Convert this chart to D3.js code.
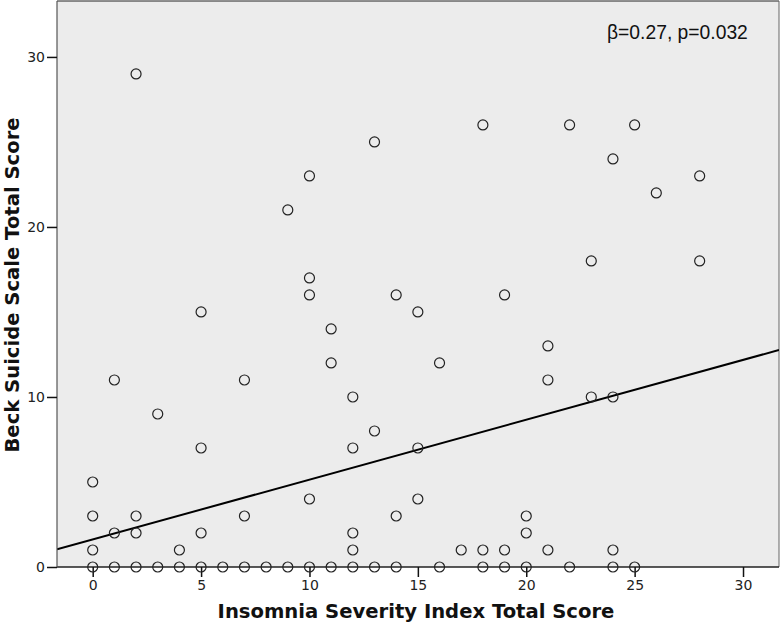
<!DOCTYPE html>
<html>
<head>
<meta charset="utf-8">
<script src="https://cdn.jsdelivr.net/npm/d3@7"></script>
<style>
  body { margin: 0; background: #fff; }
  svg { display: block; }
</style>
</head>
<body>
<div id="chart"></div>
<script>
// ISI score (x) vs BSS score (y), one pair per subject
var isiScores = [2, 10, 9, 13, 18, 22, 25, 24, 26, 28, 23, 28,
                 10, 10, 11, 11, 14, 15, 19, 5, 12, 12, 13, 15, 16,
                 21, 21, 23, 24, 1, 7, 3, 5,
                 0, 0, 0, 0, 1, 1, 2, 2, 2, 3, 4, 4, 5, 5, 6, 7, 7, 8, 9,
                 10, 10, 11, 12, 12, 12, 13, 14, 14, 15, 16, 17, 18, 18,
                 19, 19, 20, 20, 20, 21, 22, 24, 24, 25];
var bssScores = [29, 23, 21, 25, 26, 26, 26, 24, 22, 23, 18, 18,
                 17, 16, 14, 12, 16, 15, 16, 15, 10, 7, 8, 7, 12,
                 13, 11, 10, 10, 11, 11, 9, 7,
                 5, 3, 1, 0, 2, 0, 3, 2, 0, 0, 1, 0, 2, 0, 0, 3, 0, 0, 0,
                 4, 0, 0, 2, 1, 0, 0, 3, 0, 4, 0, 1, 1, 0,
                 1, 0, 3, 2, 0, 1, 0, 1, 0, 0];
var xTicks = [0, 5, 10, 15, 20, 25, 30];
var yTicks = [0, 10, 20, 30];
// fit line
var fitIntercept = 1.62;
var fitSlope = 0.352;
var annotation = "β=0.27, p=0.032";

var points = isiScores.map(function(d, i){ return {x: d, y: bssScores[i]}; });

var W = 780, H = 624;
var margin = {top: 1, right: 1, bottom: 57, left: 57};
var pw = W - margin.left - margin.right;
var ph = H - margin.top - margin.bottom;

var svg = d3.select("#chart").append("svg")
            .attr("width", W)
            .attr("height", H);

var x = d3.scaleLinear().domain([-1.647, 31.66]).range([0, pw]);
var y = d3.scaleLinear().domain([0, 33.29]).range([ph, 0]);

var g = svg.append("g").attr("transform", "translate(" + margin.left + "," + margin.top + ")");

g.append("rect")
 .attr("x", 0).attr("y", 0)
 .attr("width", pw).attr("height", ph)
 .attr("fill", "#ececec")
 .attr("stroke", "none");

// frame
g.append("line").attr("x1", 0).attr("x2", pw).attr("y1", 0).attr("y2", 0)
 .attr("stroke", "#222").attr("stroke-width", 1.2);
g.append("line").attr("x1", pw).attr("x2", pw).attr("y1", 0).attr("y2", ph)
 .attr("stroke", "#666").attr("stroke-width", 1);

var clip = g.append("clipPath").attr("id", "clip")
            .append("rect").attr("width", pw).attr("height", ph);

// regression line
var dom = x.domain();
g.append("line")
 .attr("clip-path", "url(#clip)")
 .attr("x1", x(dom[0])).attr("y1", y(fitIntercept + fitSlope * dom[0]))
 .attr("x2", x(dom[1])).attr("y2", y(fitIntercept + fitSlope * dom[1]))
 .attr("stroke", "#000")
 .attr("stroke-width", 2);

// axes
var xAxis = d3.axisBottom(x).tickValues(xTicks).tickSize(10).tickPadding(3).tickSizeOuter(0);
var yAxis = d3.axisLeft(y).tickValues(yTicks).tickSize(10).tickPadding(2).tickSizeOuter(0);

var gx = g.append("g").attr("transform", "translate(0," + ph + ")").call(xAxis);
var gy = g.append("g").call(yAxis);

[gx, gy].forEach(function(a){
    a.select(".domain").attr("stroke", "#222").attr("stroke-width", 1.5);
    a.selectAll(".tick line").attr("stroke", "#111").attr("stroke-width", 1.5);
    a.selectAll(".tick text")
     .attr("fill", "#222")
     .style("font-family", "'DejaVu Sans', sans-serif")
     .style("font-size", "14px");
});
gy.select(".domain").attr("stroke", "#555").attr("stroke-width", 1.2);
// x domain spans full width
gx.select(".domain").attr("d", "M0,0H" + pw);
gy.select(".domain").attr("d", "M0,0V" + ph);

// points
g.selectAll("circle.pt")
 .data(points)
 .enter()
 .append("circle")
 .attr("class", "pt")
 .attr("cx", function(d){ return x(d.x); })
 .attr("cy", function(d){ return y(d.y); })
 .attr("r", 5)
 .attr("fill", "none")
 .attr("stroke", "#222")
 .attr("stroke-width", 1.2);

// annotation
g.append("text")
 .attr("x", 550)
 .attr("y", 38)
 .attr("fill", "#111")
 .style("font-family", "'Liberation Sans', Arial, sans-serif")
 .style("font-size", "19.3px")
 .text(annotation);

// axis titles
svg.append("text")
   .attr("x", 416)
   .attr("y", 618)
   .attr("text-anchor", "middle")
   .style("font-family", "'DejaVu Sans', sans-serif")
   .style("font-weight", "bold")
   .style("font-size", "19.6px")
   .attr("fill", "#111")
   .text("Insomnia Severity Index Total Score");

svg.append("text")
   .attr("transform", "translate(19," + 285 + ") rotate(-90)")
   .attr("text-anchor", "middle")
   .style("font-family", "'DejaVu Sans', sans-serif")
   .style("font-weight", "bold")
   .style("font-size", "19.6px")
   .attr("fill", "#111")
   .text("Beck Suicide Scale Total Score");
</script>
</body>
</html>
